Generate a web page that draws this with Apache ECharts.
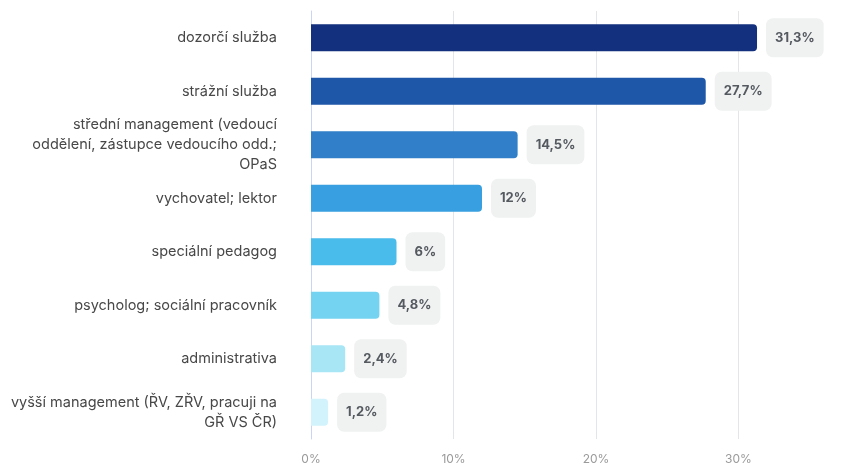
<!DOCTYPE html>
<html>
<head>
<meta charset="utf-8">
<script src="https://cdn.jsdelivr.net/npm/echarts@6/dist/echarts.min.js"></script>
<style>
  html, body { margin: 0; padding: 0; background: #fff; }
  #chart { width: 862px; height: 465px; }
</style>
</head>
<body>
<div id="chart"></div>
<script>
// data, top to bottom as in the picture
const categories = [
  "dozorčí služba",
  "strážní služba",
  "střední management (vedoucí\noddělení, zástupce vedoucího odd.;\nOPaS",
  "vychovatel; lektor",
  "speciální pedagog",
  "psycholog; sociální pracovník",
  "administrativa",
  "vyšší management (ŘV, ZŘV, pracuji na\nGŘ VS ČR)"
];
const values = [31.3, 27.7, 14.5, 12, 6, 4.8, 2.4, 1.2];
const barColors = ["#13307f", "#1f57a8", "#317fc8", "#38a0e0", "#49bceb", "#75d3f2", "#a8e6f6", "#d2f3fb"];

const fmt = (v) => String(v).replace(".", ",") + "%";

let mychart = echarts.init(document.getElementById("chart"));
const option = {
  animation: false,
  grid: {
    left: 311,
    width: 570,
    top: 11,
    bottom: 26,
    containLabel: false,
    outerBoundsMode: "none"
  },
  xAxis: {
    type: "value",
    min: 0,
    max: 40,
    interval: 10,
    axisLine: { show: false },
    axisTick: { show: false },
    axisLabel: {
      color: "#9a9a9a",
      fontFamily: "Inter",
      fontSize: 12,
      margin: 14,
      formatter: (v) => v + "%"
    },
    splitLine: { lineStyle: { color: "#e3e5e8", width: 1 } }
  },
  yAxis: {
    type: "category",
    inverse: true,
    data: categories,
    axisLine: { show: true, lineStyle: { color: "#c9d5f2", width: 1 } },
    axisTick: { show: false },
    axisLabel: {
      color: "#484848",
      fontFamily: "Inter",
      fontSize: 14.5,
      lineHeight: 20,
      margin: 34,
      align: "right"
    }
  },
  series: [
    {
      type: "bar",
      barWidth: 27,
      data: values.map((v, i) => ({
        value: v,
        itemStyle: { color: barColors[i], borderRadius: [0, 4, 4, 0] }
      })),
      label: {
        show: true,
        position: "right",
        distance: 9,
        formatter: (p) => fmt(p.value),
        color: "#555a60",
        fontFamily: "Inter",
        fontWeight: "bold",
        fontSize: 13,
        backgroundColor: "#f0f1f1",
        borderRadius: 7,
        padding: [13, 9, 13, 9]
      }
    }
  ]
};
mychart.setOption(option);
</script>
</body>
</html>
